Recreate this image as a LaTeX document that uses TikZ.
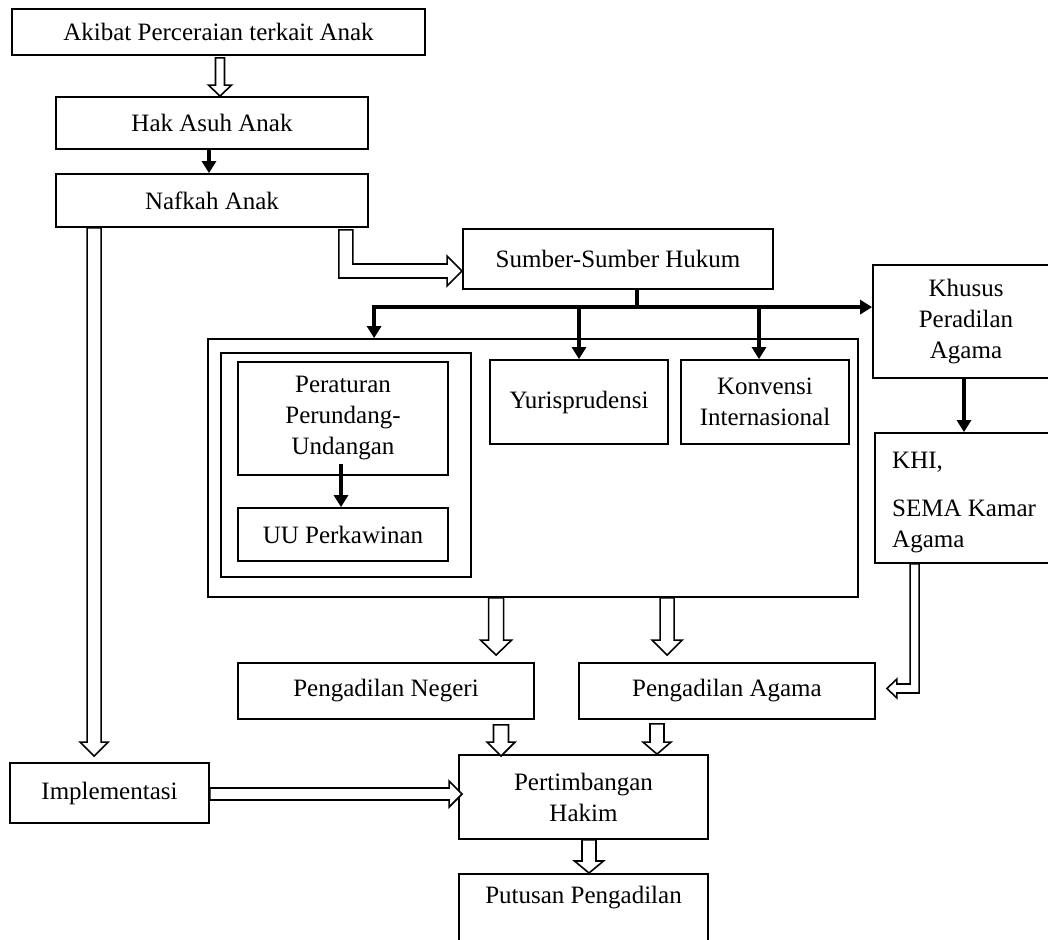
\documentclass[tikz,border=0pt]{standalone}
\usepackage{fontspec}
\setmainfont{Liberation Serif}
\usetikzlibrary{calc,arrows.meta}
\tikzset{
  box/.style={draw, line width=1.8pt, fill=white, inner sep=0pt, align=center, font=\fontsize{25}{31}\selectfont},
  lbl/.style={inner sep=0pt, align=center, font=\fontsize{25}{31}\selectfont},
  hollow/.style={draw, fill=white, line width=1.6pt, line join=miter},
  blk/.style={line width=4.5pt, -{Triangle[width=14pt,length=12pt]}},
}
% vertical hollow arrow pointing down: #1 start, #2 tip, #3 shaft half width, #4 head half width, #5 head length
\newcommand{\HVarrow}[5]{%
  \draw[hollow] let \p1=#1, \p2=#2 in
    (\x1-#3pt,\y1) -- (\x1-#3pt,\y2+#5pt) -- (\x1-#4pt,\y2+#5pt) -- (\x1,\y2)
    -- (\x1+#4pt,\y2+#5pt) -- (\x1+#3pt,\y2+#5pt) -- (\x1+#3pt,\y1) -- cycle;}
% horizontal hollow arrow pointing right
\newcommand{\HHarrow}[5]{%
  \draw[hollow] let \p1=#1, \p2=#2 in
    (\x1,\y1+#3pt) -- (\x2-#5pt,\y1+#3pt) -- (\x2-#5pt,\y1+#4pt) -- (\x2,\y1)
    -- (\x2-#5pt,\y1-#4pt) -- (\x2-#5pt,\y1-#3pt) -- (\x1,\y1-#3pt) -- cycle;}
\begin{document}
\begin{tikzpicture}[x=1pt,y=-1pt]
\useasboundingbox (0,0) rectangle (1048,939);

% nodes
\node[box, minimum width=413pt, minimum height=46pt] (akibat) at (218.5,32) {Akibat Perceraian terkait Anak};
\node[box, minimum width=312pt, minimum height=52pt] (hak) at (212,123) {Hak Asuh Anak};
\node[box, minimum width=312pt, minimum height=53pt] (nafkah) at (212,200.5) {Nafkah Anak};
\node[box, minimum width=310pt, minimum height=60pt] (sumber) at (618,259) {Sumber-Sumber Hukum};
\node[box, minimum width=186pt, minimum height=113pt] (khusus) at (966,321.5) {Khusus\\Peradilan\\Agama};
\node[box, minimum width=185pt, minimum height=130pt] (khi) at (967.5,498) {};
\node[lbl, anchor=north west, align=left] (khitext) at (892,451.7) {KHI,\\[17pt]SEMA Kamar\\Agama};
\node[box, minimum width=650pt, minimum height=258pt] (outer) at (533,468) {};
\node[box, minimum width=250pt, minimum height=224pt] (inner) at (346,465) {};
\node[box, minimum width=210pt, minimum height=113pt] (peraturan) at (343,418.5) {Peraturan\\Perundang-\\Undangan};
\node[box, minimum width=210pt, minimum height=53pt] (uu) at (343,534.5) {UU Perkawinan};
\node[box, minimum width=178pt, minimum height=84pt] (yuris) at (579,402) {Yurisprudensi};
\node[box, minimum width=168pt, minimum height=84pt] (konvensi) at (765,402) {Konvensi\\Internasional};
\node[box, minimum width=296pt, minimum height=56pt] (pn) at (386,691) {Pengadilan Negeri};
\node[box, minimum width=296pt, minimum height=56pt] (pa) at (727,691) {Pengadilan Agama};
\node[box, minimum width=199pt, minimum height=60pt] (impl) at (109.5,793) {Implementasi};
\node[box, minimum width=249pt, minimum height=84pt] (pert) at (583.5,797) {Pertimbangan\\Hakim};
\node[box, minimum width=249pt, minimum height=100pt, anchor=north] (putusan) at (583.5,873) {};
\node[lbl] (putusantext) at (583.5,898) {Putusan Pengadilan};

% black arrows
\draw[blk] ($(hak.south)+(-3,0)$) -- ($(nafkah.north)+(-3,0)$);
\coordinate (stemtop) at ($(sumber.south)+(19,0)$);
\coordinate (barJ) at ($(sumber.south)+(19,19)$);
\coordinate (barL) at ($(outer.north west)+(167,-31)$);
\draw[line width=4.5pt] (stemtop) -- (barJ);
\draw[line width=4.5pt, line join=miter, {Triangle[width=14pt,length=12pt]}-{Triangle[width=14pt,length=12pt]}]
  (barL |- outer.north) -- (barL) -- (khusus.west |- barL);
\draw[blk] (yuris.north |- barL) -- (yuris.north);
\coordinate (konv) at ($(konvensi.north)+(-6,0)$);
\draw[blk] (konv |- barL) -- (konv);
\coordinate (pu1) at ($(peraturan.south)+(-2,-12)$);
\draw[blk] (pu1) -- (pu1 |- uu.north);
\coordinate (kk1) at ($(khusus.south)+(-2,0)$);
\draw[blk] (kk1) -- (kk1 |- khi.north);

% hollow arrows
\HVarrow{($(akibat.south)+(1.5,2)$)}{(hak.north)}{4.5}{11.5}{11}
\HVarrow{($(nafkah.south west)+(39,0)$)}{($(impl.north)+(0,-6)$)}{7}{14}{14}
\HVarrow{($(outer.south west)+(289,0)$)}{($(pn.north)+(0,-7)$)}{7.5}{15.5}{15}
\HVarrow{($(outer.south west)+(460,0)$)}{($(pa.north)+(0,-7)$)}{7}{15}{15}
\HVarrow{($(pn.south)+(115,5)$)}{($(pert.north)+(0,2)$)}{7.5}{14}{14}
\HVarrow{($(pa.south)+(-70,4)$)}{(pert.north)}{7}{14}{12}
\HVarrow{($(pert.south)+(5.5,0)$)}{(putusan.north)}{7}{14.5}{12}
\HHarrow{($(impl.east)+(0,1)$)}{($(pert.west)+(4,0)$)}{6}{13}{13}

% bent hollow arrow Nafkah -> Sumber
\draw[hollow] let \p1=($(nafkah.south east)+(-23,2)$), \p2=($(sumber.west)+(0,12)$) in
  (\x1-7pt,\y1) -- (\x1-7pt,\y2-7pt) -- (\x2-15pt,\y2-7pt) -- (\x2-15pt,\y2-15pt) -- (\x2,\y2)
  -- (\x2-15pt,\y2+15pt) -- (\x2-15pt,\y2+7pt) -- (\x1+7pt,\y2+7pt) -- (\x1+7pt,\y1) -- cycle;

% bent hollow arrow KHI -> Pengadilan Agama
\draw[hollow] let \p1=($(khi.south west)+(40.5,0)$), \p2=($(pa.east)+(11,-2.5)$) in
  (\x1-4.5pt,\y1) -- (\x1-4.5pt,\y2+4.5pt) -- (\x2+10pt,\y2+4.5pt) -- (\x2+10pt,\y2+9.5pt) -- (\x2,\y2)
  -- (\x2+10pt,\y2-9.5pt) -- (\x2+10pt,\y2-4.5pt) -- (\x1+4.5pt,\y2-4.5pt) -- (\x1+4.5pt,\y1) -- cycle;
\end{tikzpicture}
\end{document}
